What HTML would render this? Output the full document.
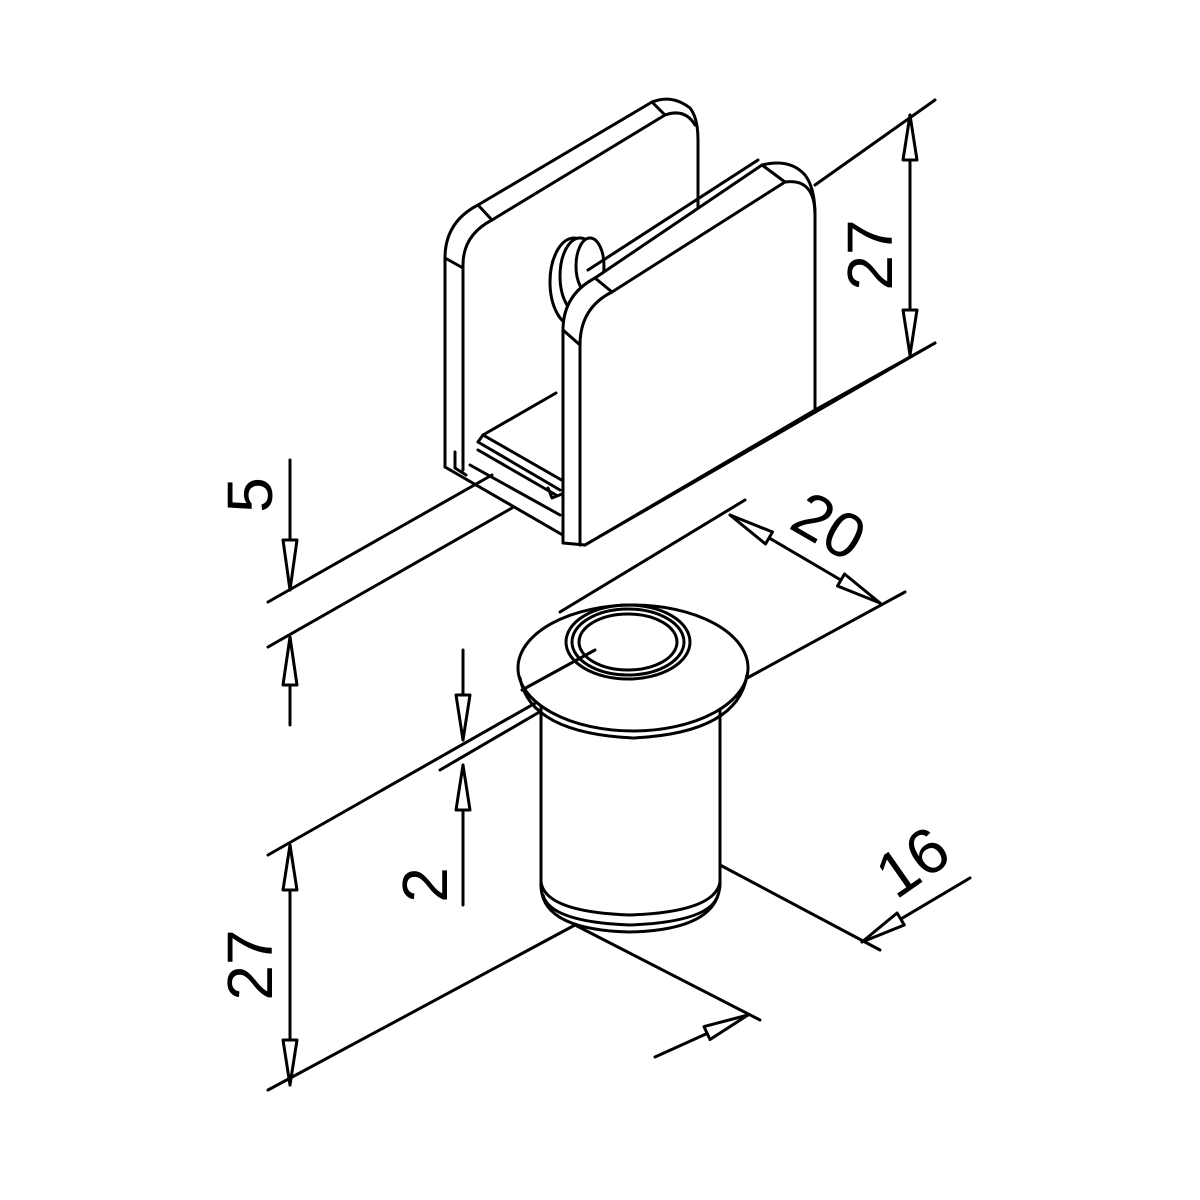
<!DOCTYPE html>
<html><head><meta charset="utf-8"><style>html,body{margin:0;padding:0;background:#fff}svg{display:block}</style></head>
<body>
<svg width="1200" height="1200" viewBox="0 0 1200 1200" xmlns="http://www.w3.org/2000/svg">
<g fill="none" stroke="#000" stroke-width="3" stroke-linecap="round" stroke-linejoin="round">
<line x1="268" y1="602" x2="492" y2="475"/>
<line x1="268" y1="647" x2="512" y2="508"/>
<line x1="815" y1="185" x2="935" y2="100"/>
<line x1="815" y1="410" x2="935" y2="343"/>
<path d="M445,467 V258 Q445,222 478,205 L652,102 Q672,94 690,108 Q698,118 698,140 V210"/>
<path d="M463,470 V265 Q463,235 492,220 L665,115 Q685,108 695,125"/>
<line x1="445" y1="258" x2="463" y2="268"/>
<line x1="478" y1="205" x2="492" y2="220"/>
<line x1="652" y1="102" x2="665" y2="115"/>
<path d="M455,452 V468 L466,475"/>
<path d="M470,465 L560,515"/>
<line x1="445" y1="467" x2="580" y2="545"/>
<line x1="483" y1="435" x2="556" y2="393"/>
<path d="M483,435 L565,482 M478,442 L560,490 M478,450 L556,495 M483,435 L478,442 M548,488 L552,498 L562,494"/>
<ellipse cx="574" cy="282" rx="24" ry="44" fill="#fff"/>
<ellipse cx="580" cy="276" rx="20" ry="38" fill="#fff"/>
<ellipse cx="590" cy="266" rx="14" ry="28" fill="#fff"/>
<path fill="#fff" d="M563,543 V330 Q563,295 595,278 L762,165 Q790,158 805,175 Q815,188 815,215 V410 L585,545 Z"/>
<path d="M580,545 V345 Q580,308 612,292 L785,182 Q815,178 815,215"/>
<line x1="563" y1="330" x2="580" y2="345"/>
<line x1="595" y1="278" x2="612" y2="292"/>
<line x1="762" y1="165" x2="785" y2="182"/>
<line x1="588" y1="270" x2="758" y2="160"/>
<line x1="585" y1="545" x2="935" y2="343"/>
<line x1="910" y1="115" x2="910" y2="355"/>
<polygon fill="#fff" points="910,115 903,160 917,160"/>
<polygon fill="#fff" points="910,355 903,310 917,310"/>
<line x1="290" y1="460" x2="290" y2="590"/>
<polygon fill="#fff" points="290,590 283,540 297,540"/>
<line x1="290" y1="637" x2="290" y2="725"/>
<polygon fill="#fff" points="290,637 283,685 297,685"/>

<line x1="268" y1="855" x2="590" y2="672"/>
<line x1="560" y1="612" x2="745" y2="500"/>
<line x1="440" y1="770" x2="560" y2="700"/>
<line x1="738" y1="683" x2="905" y2="592"/>
<path fill="#fff" d="M541,700 V885 Q541,930 630,932 Q717,930 720,885 V700 Z"/>
<path d="M541,882 Q545,912 630,915 Q715,912 720,882"/>
<path d="M543,895 Q550,922 630,925 Q710,922 718,895"/>
<ellipse cx="633" cy="668" rx="115" ry="63" fill="#fff"/>
<path d="M520,678 Q530,733 633,738 Q738,733 747,675"/>
<ellipse cx="628" cy="642" rx="62" ry="37"/>
<ellipse cx="628" cy="642" rx="56" ry="33"/>
<ellipse cx="628" cy="642" rx="49" ry="28"/>
<line x1="522" y1="690" x2="595" y2="650"/>
<line x1="730" y1="515" x2="880" y2="603"/>
<polygon fill="#fff" points="730,515 765.5,544 772.5,532"/>
<polygon fill="#fff" points="880,603 837.5,586 844.5,574"/>
<line x1="463" y1="650" x2="463" y2="740"/>
<polygon fill="#fff" points="463,740 456,695 470,695"/>
<line x1="463" y1="765" x2="463" y2="905"/>
<polygon fill="#fff" points="463,765 456,810 470,810"/>
<line x1="268" y1="1090" x2="575" y2="925"/>
<line x1="290" y1="845" x2="290" y2="1085"/>
<polygon fill="#fff" points="290,845 283,890 297,890"/>
<polygon fill="#fff" points="290,1085 283,1040 297,1040"/>
<line x1="575" y1="925" x2="760" y2="1020"/>
<line x1="720" y1="865" x2="880" y2="950"/>
<line x1="970" y1="878" x2="862" y2="942"/>
<polygon fill="#fff" points="862,942 904.3,925 897.1,913"/>
<line x1="655" y1="1057" x2="748" y2="1015"/>
<polygon fill="#fff" points="748,1015 710,1039.5 704,1026.6"/>
</g>
<g font-family="Liberation Sans, sans-serif" font-size="64" fill="#000" text-anchor="middle">
<text transform="translate(892,255) rotate(-90)">27</text>
<text transform="translate(272,495) rotate(-90)">5</text>
<text transform="translate(447,885) rotate(-90)">2</text>
<text transform="translate(272,965) rotate(-90)">27</text>
<text transform="translate(818,545) rotate(30)">20</text>
<text transform="translate(925,880) rotate(-35)">16</text>
</g>
</svg>
</body></html>
